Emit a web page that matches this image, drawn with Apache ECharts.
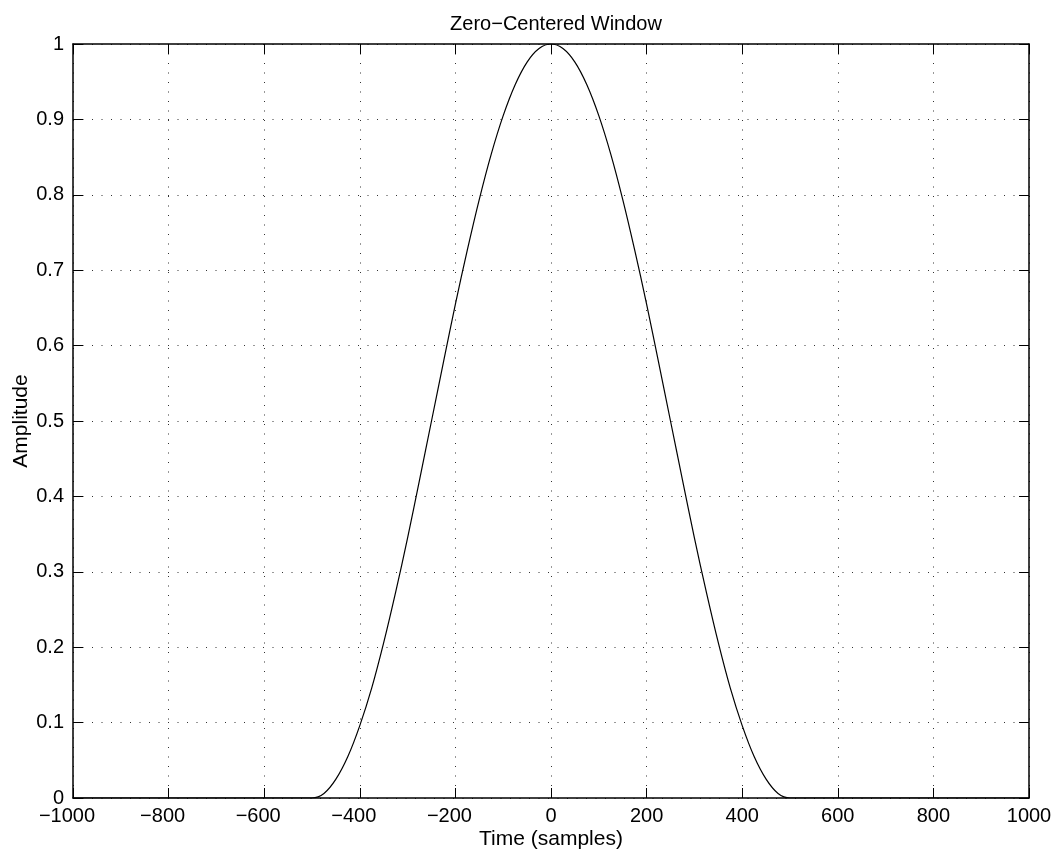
<!DOCTYPE html>
<html>
<head>
<meta charset="utf-8">
<script src="https://cdn.jsdelivr.net/npm/echarts@6/dist/echarts.min.js"></script>
<style>
html,body{margin:0;padding:0;background:#fff;}
#chart{width:1055px;height:854px;}
</style>
</head>
<body>
<div id="chart"></div>
<script>
// Data
const timeSamples = [-1000, -500, -475, -450, -425, -400, -375, -350, -325, -300, -275, -250, -225, -200, -175, -150, -125, -100, -75, -50, -25,
  0, 25, 50, 75, 100, 125, 150, 175, 200, 225, 250, 275, 300, 325, 350, 375, 400, 425, 450, 475, 500, 1000];
const amplitude = [0, 0, 0.006, 0.025, 0.055, 0.096, 0.146, 0.206, 0.273, 0.345, 0.422, 0.5, 0.578, 0.655, 0.727, 0.794, 0.854, 0.905, 0.946, 0.976, 0.994,
  1, 0.994, 0.976, 0.946, 0.905, 0.854, 0.794, 0.727, 0.655, 0.578, 0.5, 0.422, 0.345, 0.273, 0.206, 0.146, 0.096, 0.055, 0.025, 0.006, 0, 0];
const xTicks = [-1000, -800, -600, -400, -200, 0, 200, 400, 600, 800, 1000];
const yTicks = [0, 0.1, 0.2, 0.3, 0.4, 0.5, 0.6, 0.7, 0.8, 0.9, 1];

const FONT = 'Liberation Sans';
const chart = echarts.init(document.getElementById('chart'), null, {renderer: 'canvas'});
const gridLine = {show: true, lineStyle: {color: '#333', width: 1, type: [1, 8.5]}};
const tickIn = {show: true, inside: true, length: 10, lineStyle: {color: '#000', width: 1}};
// MATLAB-style: digits centred on the tick, minus sign hanging to the left
const fmtX = v => v < 0 ? '\u2212' + Math.abs(v) + '{pad|}' : String(v);
const fmtY = v => String(Math.round(v * 10) / 10);

chart.setOption({
  animation: false,
  backgroundColor: '#fff',
  title: {
    text: 'Zero\u2212Centered Window',
    left: 551,
    textAlign: 'center',
    top: 9,
    textStyle: {fontFamily: FONT, fontSize: 20, fontWeight: 'normal', color: '#000'}
  },
  grid: {left: 73, right: 26, top: 44, bottom: 56, show: false, containLabel: false, outerBoundsMode: 'none'},
  xAxis: [{
    type: 'value', min: -1000, max: 1000, interval: 200, position: 'bottom',
    name: 'Time (samples)', nameLocation: 'middle', nameGap: 31, nameMoveOverlap: false,
    nameTextStyle: {fontFamily: FONT, fontSize: 21, color: '#000'},
    axisLine: {show: true, onZero: false, lineStyle: {color: '#000', width: 1.5}},
    axisTick: tickIn,
    axisLabel: {fontFamily: FONT, fontSize: 20, color: '#000', margin: 8, formatter: fmtX,
      rich: {pad: {width: 12, fontSize: 20}}},
    splitLine: gridLine
  }, {
    type: 'value', min: -1000, max: 1000, interval: 200, position: 'top',
    axisLine: {show: true, onZero: false, lineStyle: {color: '#000', width: 1.5}},
    axisTick: tickIn, axisLabel: {show: false}, splitLine: {show: false}
  }],
  yAxis: [{
    type: 'value', min: 0, max: 1, interval: 0.1, position: 'left',
    name: 'Amplitude', nameLocation: 'middle', nameGap: 41, nameRotate: 90, nameMoveOverlap: false,
    nameTextStyle: {fontFamily: FONT, fontSize: 21, color: '#000'},
    axisLine: {show: true, onZero: false, lineStyle: {color: '#000', width: 1.5}},
    axisTick: tickIn,
    axisLabel: {fontFamily: FONT, fontSize: 20, color: '#000', margin: 9, formatter: fmtY},
    splitLine: gridLine
  }, {
    type: 'value', min: 0, max: 1, interval: 0.1, position: 'right',
    axisLine: {show: true, onZero: false, lineStyle: {color: '#000', width: 1.5}},
    axisTick: tickIn, axisLabel: {show: false}, splitLine: {show: false}
  }],
  series: [{
    type: 'line',
    xAxisIndex: 0, yAxisIndex: 0,
    data: timeSamples.map((t, i) => [t, amplitude[i]]),
    showSymbol: false,
    smooth: 0.3,
    lineStyle: {color: '#000', width: 1.2},
    z: 5
  }]
});
</script>
</body>
</html>
